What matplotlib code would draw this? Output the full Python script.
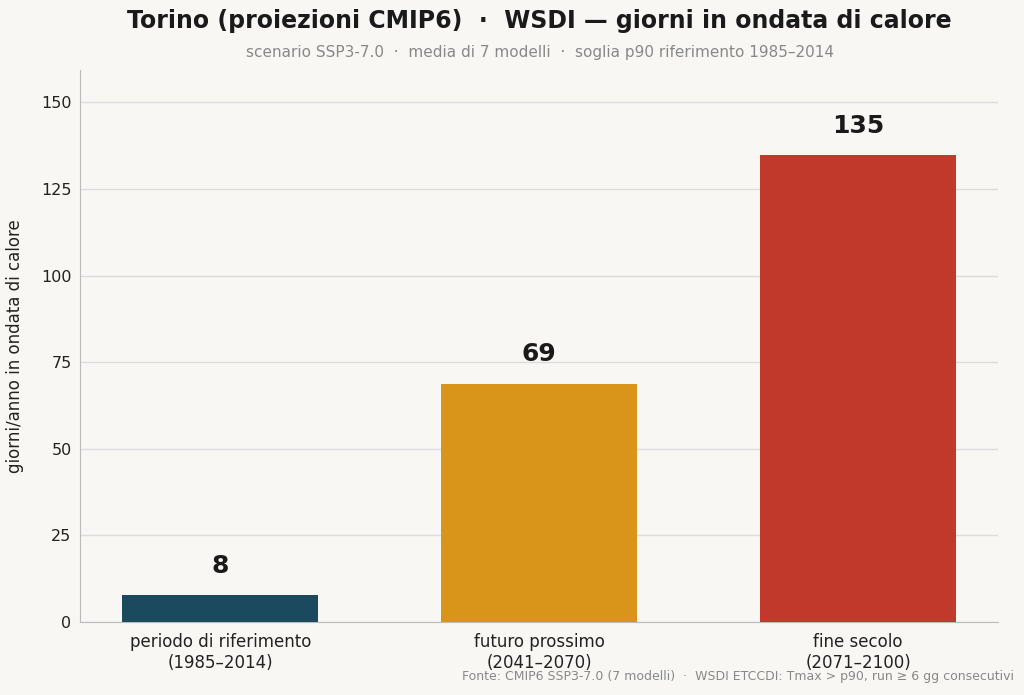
import matplotlib.pyplot as plt

categorie = ["periodo di riferimento\n(1985–2014)", "futuro prossimo\n(2041–2070)", "fine secolo\n(2071–2100)"]
giorni = [7.8, 68.8, 134.7]
colori = ["#1b4a5e", "#d9951a", "#c0392b"]
yticks = [0, 25, 50, 75, 100, 125, 150]

bg = "#f8f7f4"
fig = plt.figure(figsize=(10.24, 6.95), dpi=100, facecolor=bg)
ax = fig.add_axes([0.078, 0.105, 0.897, 0.795], facecolor=bg)

x = range(len(categorie))
ax.bar(x, giorni, width=0.615, color=colori, zorder=3)
for xi, v in zip(x, giorni):
    ax.text(xi, v + 5, f"{v:.0f}", ha="center", va="bottom", fontsize=18,
            fontweight="bold", color="#1a1a1a")

ax.set_ylim(0, 159.5)
ax.set_xlim(-0.44, 2.44)
ax.set_yticks(yticks)
ax.set_xticks(list(x))
ax.set_xticklabels(categorie, fontsize=12, color="#222222")
ax.tick_params(axis="y", labelsize=11.5, colors="#222222", length=0, pad=6)
ax.tick_params(axis="x", length=0, pad=8)
ax.grid(axis="y", color="#dcdcdc", linewidth=1, zorder=0)
for s in ["top", "right"]:
    ax.spines[s].set_visible(False)
for s in ["left", "bottom"]:
    ax.spines[s].set_color("#bbbbbb")
ax.set_ylabel("giorni/anno in ondata di calore", fontsize=12, color="#222222", labelpad=12)

fig.text(0.527, 0.97, "Torino (proiezioni CMIP6)  ·  WSDI — giorni in ondata di calore",
         ha="center", va="center", fontsize=17, fontweight="bold", color="#1a1a1a")
fig.text(0.527, 0.925, "scenario SSP3-7.0  ·  media di 7 modelli  ·  soglia p90 riferimento 1985–2014",
         ha="center", va="center", fontsize=11, color="#888888")
fig.text(0.99, 0.026, "Fonte: CMIP6 SSP3-7.0 (7 modelli)  ·  WSDI ETCCDI: Tmax > p90, run ≥ 6 gg consecutivi",
         ha="right", va="center", fontsize=9, color="#888888")

fig.savefig("out.png", dpi=100, facecolor=bg)
